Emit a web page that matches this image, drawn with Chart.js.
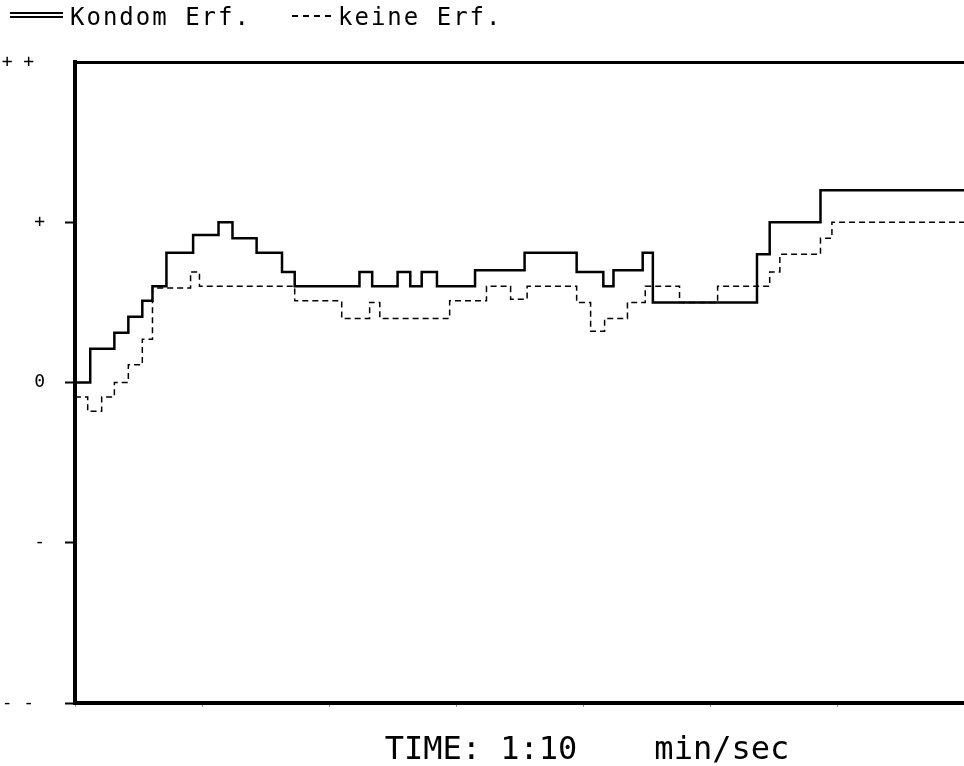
<!DOCTYPE html>
<html>
<head>
<meta charset="utf-8">
<script src="https://cdn.jsdelivr.net/npm/chart.js@4"></script>
<style>
  body { margin:0; background:#fff; }
  #wrap { width:964px; height:766px; }
</style>
</head>
<body>
<div id="wrap"><canvas id="stage" width="964" height="766"></canvas></div>
<script>
// Zeit in Sekunden, Wert ab diesem Zeitpunkt (Treppenkurve)
const kondomTime = [0, 1.2, 3.1, 4.2, 5.3, 6.1, 7.2, 9.3, 11.3, 12.4, 14.3, 16.3, 17.3, 22.4, 23.4, 25.4, 26.4, 27.3, 28.5, 31.5, 35.4, 39.5, 41.6, 42.4, 44.7, 45.5, 53.7, 54.7, 58.7, 70];
const kondomVal  = [0, 0.21, 0.31, 0.41, 0.51, 0.6, 0.81, 0.92, 1.0, 0.9, 0.81, 0.69, 0.6, 0.69, 0.6, 0.69, 0.6, 0.69, 0.6, 0.7, 0.81, 0.69, 0.6, 0.7, 0.81, 0.5, 0.8, 1.0, 1.2, 1.2];

const keineTime = [0, 1.0, 2.1, 3.1, 4.2, 5.3, 6.1, 9.1, 9.8, 17.3, 21.0, 23.2, 24.0, 29.5, 32.4, 34.3, 35.6, 39.5, 40.6, 41.7, 43.5, 44.9, 47.6, 50.6, 54.7, 55.5, 58.7, 59.6, 70];
const keineVal  = [-0.09, -0.18, -0.09, 0, 0.11, 0.27, 0.59, 0.69, 0.6, 0.51, 0.4, 0.5, 0.4, 0.51, 0.6, 0.52, 0.6, 0.5, 0.32, 0.4, 0.5, 0.6, 0.5, 0.6, 0.69, 0.8, 0.9, 1.0, 1.0];

const yTickValues = [-2, -1, 0, 1, 2];
const yTickLabels = ['- - ', '-', '0', '+', '+ + '];
const seriesNames = ['Kondom Erf.', 'keine Erf.'];
const xTitle = 'TIME: 1:10    min/sec';

const MONO = '"DejaVu Sans Mono", monospace';

function toPoints(t, v){
  return t.map((x, i) => ({x: x, y: v[i]}));
}

// Legende oben links wie im Original (Linie + Text)
const topLegend = {
  id: 'topLegend',
  afterDraw(chart){
    const ctx = chart.ctx;
    ctx.save();
    ctx.fillStyle = '#000';
    ctx.strokeStyle = '#000';
    // durchgezogene Doppellinie
    ctx.fillRect(10, 12, 53, 2);
    ctx.fillRect(10, 16, 53, 2);
    ctx.font = '24px ' + MONO;
    ctx.letterSpacing = '2px';
    ctx.textBaseline = 'alphabetic';
    ctx.fillText(seriesNames[0], 70, 25);
    // gestrichelt
    ctx.lineWidth = 2;
    ctx.setLineDash([6, 5]);
    ctx.beginPath();
    ctx.moveTo(292, 16);
    ctx.lineTo(334, 16);
    ctx.stroke();
    ctx.setLineDash([]);
    ctx.fillText(seriesNames[1], 338, 25);
    ctx.restore();
  }
};

new Chart(document.getElementById('stage'), {
  type: 'line',
  data: {
    datasets: [{
      label: seriesNames[0],
      data: toPoints(kondomTime, kondomVal),
      borderColor: '#000',
      borderWidth: 2.5,
      stepped: true,
      pointRadius: 0,
      fill: false
    }, {
      label: seriesNames[1],
      data: toPoints(keineTime, keineVal),
      borderColor: '#000',
      borderWidth: 1.5,
      borderDash: [6, 4],
      stepped: true,
      pointRadius: 0,
      fill: false
    }]
  },
  options: {
    responsive: false,
    animation: false,
    layout: { padding: { top: 62, right: 0, left: 0, bottom: 0 } },
    plugins: {
      legend: { display: false },
      tooltip: { enabled: false }
    },
    scales: {
      x: {
        type: 'linear',
        min: 0,
        max: 70,
        ticks: { display: false, stepSize: 10 },
        grid: { drawOnChartArea: false, drawTicks: true, tickLength: 4, color: '#999' },
        border: { display: true, color: '#000', width: 4 },
        title: {
          display: true,
          text: '       ' + xTitle,
          color: '#000',
          font: { family: MONO, size: 32 },
          padding: { top: 0, bottom: -4 }
        },
        afterFit(scale){ scale.height = 63; }
      },
      y: {
        min: -2,
        max: 2,
        afterBuildTicks(scale){ scale.ticks = yTickValues.map(v => ({value: v})); },
        ticks: {
          color: '#000',
          font: { family: MONO, size: 18 },
          padding: 20,
          callback: (v) => yTickLabels[yTickValues.indexOf(v)]
        },
        grid: {
          drawOnChartArea: true,
          drawTicks: true,
          tickLength: 10,
          color: (c) => c.tick && c.tick.value === 2 ? '#000' : 'rgba(0,0,0,0)',
          lineWidth: (c) => c.tick && c.tick.value === 2 ? 3 : 1,
          tickColor: (c) => c.tick && c.tick.value === 2 ? 'rgba(0,0,0,0)' : '#000',
          tickWidth: 2
        },
        border: { display: true, color: '#000', width: 4 },
        afterFit(scale){ scale.width = 75; }
      }
    }
  },
  plugins: [topLegend]
});
</script>
</body>
</html>
